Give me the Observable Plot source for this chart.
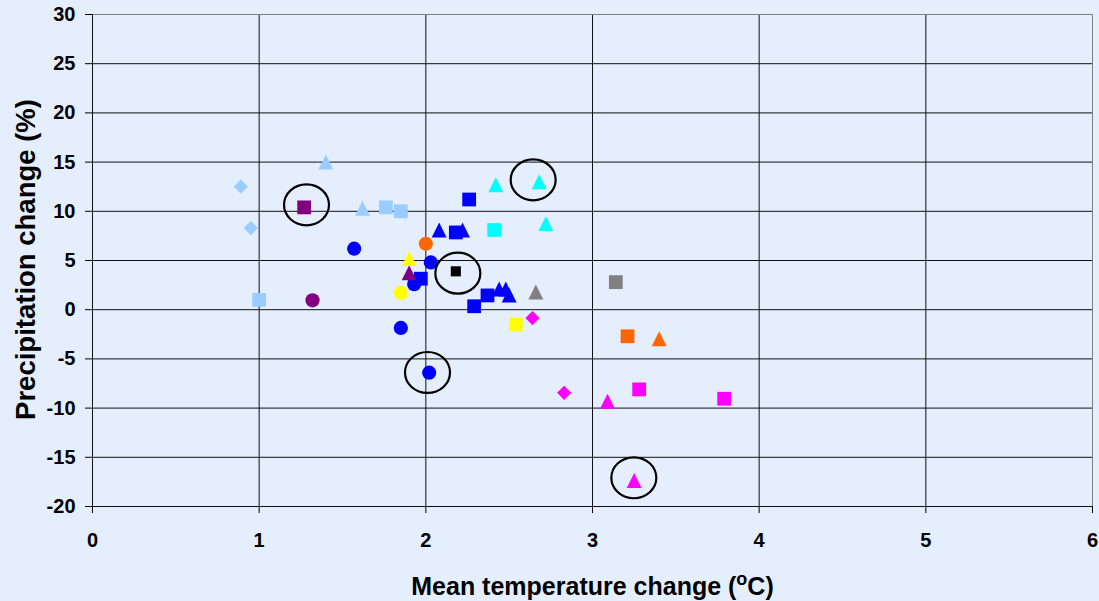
<!DOCTYPE html>
<html><head><meta charset="utf-8">
<script src="https://cdn.jsdelivr.net/npm/d3@7"></script>
<script src="https://cdn.jsdelivr.net/npm/@observablehq/plot@0.6"></script>
<style>html,body{margin:0;padding:0;background:#E5EEFD;}</style>
</head><body><div id="chart"></div><script>
// Data
const xValues = [0.89, 0.95, 1.00, 1.40, 1.62, 1.76, 1.85, 1.27, 1.32, 1.90,
  1.57, 2.03, 1.93, 1.85, 2.02, 1.97, 2.26, 2.18, 2.37, 2.29,
  2.08, 2.22, 2.44, 2.48, 2.50, 2.00, 1.90, 1.85, 2.54, 2.18,
  2.41, 2.42, 2.68, 2.72, 2.66, 3.14, 3.21, 3.40, 2.64, 2.83,
  3.09, 3.28, 3.79, 3.25];
const yValues = [12.5, 8.3, 1.0, 15.0, 10.3, 10.4, 10.0, 10.4, 0.95, 3.75,
  6.2, 4.8, 2.6, -1.85, -6.4, 3.15, 11.2, 7.85, 1.45, 0.35,
  8.1, 8.1, 2.1, 2.1, 1.5, 6.7, 5.2, 1.7, -1.5, 3.9,
  8.1, 12.7, 13.0, 8.75, 1.8, 2.8, -2.7, -2.95, -0.85, -8.45,
  -9.3, -8.1, -9.05, -17.35];
const groups = ["G1","G1","G1","G1","G1","G1","G1","G2","G2","G2",
  "G3","G3","G3","G3","G3","G3","G3","G3","G3","G3",
  "G3","G3","G3","G3","G3","G4","G5","G5","G5","G6",
  "G7","G7","G7","G7","G8","G8","G4","G4","G9","G9",
  "G9","G9","G9","G9"];
const shapes = ["diamond","diamond","square","triangle","triangle","square","square","square","circle","triangle",
  "circle","circle","circle","circle","circle","square","square","square","square","square",
  "triangle","triangle","triangle","triangle","triangle","circle","triangle","circle","square","square",
  "square","triangle","triangle","triangle","triangle","square","square","triangle","diamond","diamond",
  "triangle","square","square","triangle"];
const groupNames = ["G1","G2","G3","G4","G5","G6","G7","G8","G9"];
const groupColors = ["#99CCFF","#800080","#0000FF","#FF6600","#FFFF00","#000000","#00FFFF","#808080","#FF00FF"];
const circledX = [1.284, 2.192, 2.644, 2.01, 3.248];
const circledY = [10.66, 3.71, 13.20, -6.38, -17.08];
const xTicks = [0, 1, 2, 3, 4, 5, 6];
const yTicks = [-20, -15, -10, -5, 0, 5, 10, 15, 20, 25, 30];
const xTitle = "Mean temperature change (oC)";
const yTitle = "Precipitation change (%)";

const points = xValues.map((x, i) => ({x, y: yValues[i], group: groups[i], shape: shapes[i]}));
const circled = circledX.map((x, i) => ({x, y: circledY[i]}));

const rad = size => Math.sqrt(size / Math.PI);
const sym = {
  square: {draw(c, size) { const r = rad(size) * 0.97; c.moveTo(-r, -r); c.lineTo(r, -r); c.lineTo(r, r); c.lineTo(-r, r); c.closePath(); }},
  circle: {draw(c, size) { const r = rad(size); c.moveTo(r, 0); c.arc(0, 0, r, 0, 2 * Math.PI); c.closePath(); }},
  triangle: {draw(c, size) { const r = rad(size) * 1.05; c.moveTo(0, -r); c.lineTo(r, r); c.lineTo(-r, r); c.closePath(); }},
  diamond: {draw(c, size) { const r = rad(size); c.moveTo(0, -r); c.lineTo(r, 0); c.lineTo(0, r); c.lineTo(-r, 0); c.closePath(); }},
  ellipse: {draw(c, size) {
    const a = rad(size), b = a * 0.91, k = 0.5523;
    c.moveTo(a, 0);
    c.bezierCurveTo(a, k * b, k * a, b, 0, b);
    c.bezierCurveTo(-k * a, b, -a, k * b, -a, 0);
    c.bezierCurveTo(-a, -k * b, -k * a, -b, 0, -b);
    c.bezierCurveTo(k * a, -b, a, -k * b, a, 0);
    c.closePath();
  }}
};

const dotMarks = ["diamond", "square", "circle", "triangle"].map(s =>
  Plot.dot(points.filter(d => d.shape === s && d.group !== "G6"),
    {x: "x", y: "y", fill: "group", symbol: sym[s], r: 7.1, stroke: "none"}));

const chart = Plot.plot({
  width: 1099, height: 601,
  marginLeft: 92, marginRight: 7, marginTop: 14, marginBottom: 95,
  style: {background: "#E5EEFD", color: "black", fontFamily: "'Liberation Sans', Arial, sans-serif", fontWeight: "bold", fontSize: "20px"},
  x: {domain: [0, 6]},
  y: {domain: [-20, 30]},
  color: {type: "ordinal", domain: groupNames, range: groupColors},
  marks: [
    Plot.gridX(xTicks.filter(v => v > 0 && v < 6), {stroke: "#111", strokeOpacity: 1}),
    Plot.gridY(yTicks.filter(v => v > -20 && v < 30), {stroke: "#111", strokeOpacity: 1}),
    Plot.frame({stroke: "#808080"}),
    Plot.ruleX([0], {stroke: "#111"}),
    Plot.ruleY([-20], {stroke: "#111"}),
    Plot.axisX(xTicks, {tickSize: 7, tickPadding: 19, tickFormat: d => String(d), label: null, fontSize: 20, fontWeight: "bold"}),
    Plot.axisY(yTicks, {tickSize: 7, tickPadding: 10, tickFormat: d => String(d), label: null, fontSize: 20, fontWeight: "bold"}),
    ...dotMarks,
    Plot.dot(points.filter(d => d.group === "G6"), {x: "x", y: "y", fill: "group", symbol: sym.square, r: 5.2}),
    Plot.dot(circled, {x: "x", y: "y", symbol: sym.ellipse, r: 22.5, stroke: "black", strokeWidth: 2.2, fill: "none"}),
    Plot.text([xTitle], {frameAnchor: "bottom", dy: 80, fontSize: 25, fontWeight: "bold", textAnchor: "middle", lineAnchor: "middle"}),
    Plot.text([yTitle], {frameAnchor: "left", dx: -66, dy: -1, rotate: -90, fontSize: 27.5, fontWeight: "bold", textAnchor: "middle", lineAnchor: "middle"})
  ]
});
document.getElementById("chart").appendChild(chart);

// superscript "o" in the x-axis title
d3.select(chart).selectAll("text").filter(function() { return this.textContent === xTitle; }).each(function() {
  const t = d3.select(this);
  t.text(null);
  t.append("tspan").text("Mean temperature change (");
  t.append("tspan").attr("dy", "-10").attr("font-size", "18").text("o");
  t.append("tspan").attr("dy", "10").text("C)");
});
</script></body></html>
